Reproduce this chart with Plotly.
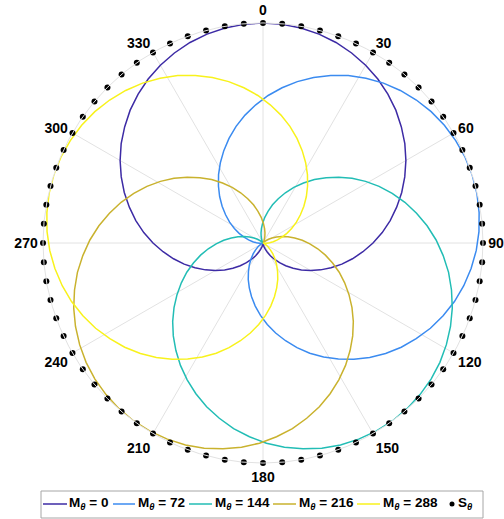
import plotly.graph_objects as go

# ---- data ----
pattern_theta = list(range(0, 365, 5))
pattern_r = [1.000, 0.998, 0.992, 0.983, 0.970, 0.953, 0.933, 0.910, 0.883, 0.854,
             0.821, 0.787, 0.750, 0.711, 0.671, 0.629, 0.587, 0.544, 0.500, 0.456,
             0.413, 0.371, 0.329, 0.289, 0.250, 0.213, 0.179, 0.146, 0.117, 0.090,
             0.067, 0.047, 0.030, 0.017, 0.008, 0.002, 0.000,
             0.002, 0.008, 0.017, 0.030, 0.047, 0.067, 0.090, 0.117, 0.146, 0.179,
             0.213, 0.250, 0.289, 0.329, 0.371, 0.413, 0.456, 0.500, 0.544, 0.587,
             0.629, 0.671, 0.711, 0.750, 0.787, 0.821, 0.854, 0.883, 0.910, 0.933,
             0.953, 0.970, 0.983, 0.992, 0.998, 1.000]
M_values = [0, 72, 144, 216, 288]
colors = ["#3D2BA5", "#3B8BF0", "#22BDB5", "#C9B22E", "#F8F21C"]
S_theta = list(range(0, 360, 5))
S_r = [1.0] * len(S_theta)
tick_vals = list(range(0, 360, 30))
tick_text = [str(v) for v in tick_vals]

W, H = 504, 519
def px(x):
    return x / W
def py(y):
    return 1 - y / H

fig = go.Figure()
for M, c in zip(M_values, colors):
    fig.add_trace(go.Scatterpolar(
        r=pattern_r, theta=[t + M for t in pattern_theta], mode="lines",
        line=dict(color=c, width=1.5), name=f"M<sub>θ</sub> = {M}",
        showlegend=False, cliponaxis=False))
fig.add_trace(go.Scatterpolar(
    r=S_r, theta=S_theta, mode="markers",
    marker=dict(color="black", size=6, line=dict(width=0)), name="S<sub>θ</sub>",
    showlegend=False, cliponaxis=False))

grid = "#e2e2e2"
fig.update_layout(
    width=W, height=H,
    margin=dict(l=0, r=0, t=0, b=0),
    paper_bgcolor="white",
    showlegend=False,
    font=dict(family="Liberation Sans, Arial, sans-serif", color="black"),
    polar=dict(
        domain=dict(x=[px(43), px(483)], y=[py(463), py(23)]),
        bgcolor="white",
        angularaxis=dict(
            rotation=90, direction="clockwise",
            tickmode="array", tickvals=tick_vals, ticktext=tick_text,
            ticks="outside", ticklen=2, tickcolor="rgba(0,0,0,0)",
            showline=True, linecolor=grid, linewidth=1,
            showgrid=True, gridcolor=grid, gridwidth=1,
            tickfont=dict(size=14, color="black", weight="bold"),
        ),
        radialaxis=dict(range=[0, 1], showgrid=False, showticklabels=False,
                        showline=False, ticks=""),
    ),
)

# ---- manual legend (single row, as in the reference) ----
shapes = [dict(type="rect", xref="paper", yref="paper",
               x0=px(41), x1=px(483), y0=py(518), y1=py(491),
               line=dict(color="#a6a6a6", width=1), fillcolor="white", layer="below")]
annotations = []
ly = 504
line_spans = [(43, 67), (113, 135), (189, 212), (273, 296), (357, 380)]
text_starts = [68, 137, 214, 298, 382]
for (x0, x1), xs, M, c in zip(line_spans, text_starts, M_values, colors):
    shapes.append(dict(type="line", xref="paper", yref="paper",
                       x0=px(x0), x1=px(x1), y0=py(ly), y1=py(ly),
                       line=dict(color=c, width=1.5)))
    annotations.append(dict(xref="paper", yref="paper", x=px(xs), y=py(ly - 1),
                            xanchor="left", yanchor="middle", showarrow=False,
                            borderpad=0,
                            text=f"<b>M<sub><i>θ</i></sub> = {M}</b>",
                            font=dict(size=13.5, color="black")))
shapes.append(dict(type="circle", xref="paper", yref="paper",
                   x0=px(449.5), x1=px(454.5), y0=py(506.5), y1=py(501.5),
                   line=dict(color="black", width=0), fillcolor="black"))
annotations.append(dict(xref="paper", yref="paper", x=px(457), y=py(ly - 1),
                        xanchor="left", yanchor="middle", showarrow=False,
                        borderpad=0, text="<b>S<sub><i>θ</i></sub></b>",
                        font=dict(size=13.5, color="black")))
fig.update_layout(shapes=shapes, annotations=annotations)

# remove the default 8px page margin so the figure fills the window exactly
fig.write_html("out.html",
               config={"displayModeBar": False},
               post_script="document.body.style.margin='0';"
                           "document.body.style.overflow='hidden';")
